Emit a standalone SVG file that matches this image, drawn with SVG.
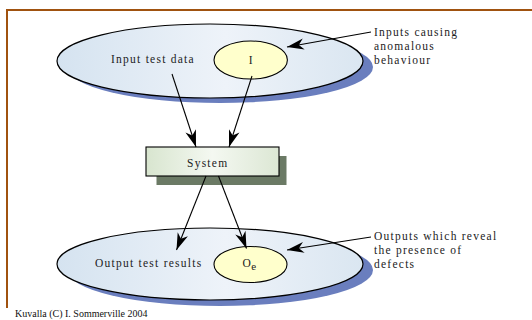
<svg xmlns="http://www.w3.org/2000/svg" width="532" height="320" viewBox="0 0 532 320">
<defs>
<linearGradient id="setFill" x1="0" y1="0" x2="1" y2="0">
<stop offset="0" stop-color="#D5E3F0"/>
<stop offset="0.55" stop-color="#EEF3F9"/>
<stop offset="1" stop-color="#DAE6F1"/>
</linearGradient>
<linearGradient id="boxFill" x1="0" y1="0" x2="1" y2="0">
<stop offset="0" stop-color="#D8E5CF"/>
<stop offset="0.5" stop-color="#F4F8F1"/>
<stop offset="1" stop-color="#DCE7D4"/>
</linearGradient>
<marker id="arr" markerUnits="userSpaceOnUse" viewBox="-18 -7 19 14" refX="0" refY="0" markerWidth="19" markerHeight="14" orient="auto">
<path d="M0,0 L-17,-5.5 L-12,0 L-17,5.5 Z" fill="#000"/>
</marker>
</defs>
<style>
.lbl{font-family:"Liberation Serif","Times New Roman",serif;font-size:11.5px;letter-spacing:1.25px;fill:#222}
.foot{font-family:"Liberation Serif","Times New Roman",serif;font-size:10px;fill:#111}
.set{fill:url(#setFill);stroke:#000;stroke-width:1.2}
.shadow{fill:#6A7EBE}
.sub{fill:#FFFFCC;stroke:#000;stroke-width:1.1}
.conn{stroke:#000;stroke-width:1.1;fill:none;marker-end:url(#arr)}
</style>
<path d="M7,308 V10 H532" fill="none" stroke="#A0520F" stroke-width="2"/>
<g id="input-set">
<ellipse class="shadow" cx="220" cy="67" rx="153" ry="36"/>
<ellipse class="set" cx="210" cy="61" rx="153" ry="37"/>
<text class="lbl" x="111" y="63.3">Input test data</text>
</g>
<g id="input-I">
<ellipse class="sub" cx="250.7" cy="60" rx="36.7" ry="19"/>
<text class="lbl" x="251.3" y="63.5" text-anchor="middle">I</text>
</g>
<g id="system">
<rect x="156.5" y="156" width="130" height="29" fill="#6B7A65"/>
<rect x="146" y="147" width="133" height="29" fill="url(#boxFill)" stroke="#000" stroke-width="1.1"/>
<text class="lbl" x="187" y="166.5">System</text>
</g>
<g id="output-set">
<ellipse class="shadow" cx="220" cy="270" rx="153" ry="36"/>
<ellipse class="set" cx="210" cy="264" rx="153" ry="36"/>
<text class="lbl" x="95" y="267">Output test results</text>
</g>
<g id="output-Oe">
<ellipse class="sub" cx="250.5" cy="264.5" rx="36.5" ry="18"/>
<text class="lbl" x="242.5" y="266.5" style="letter-spacing:0.5px">O<tspan dy="3" font-size="11">e</tspan></text>
</g>
<g id="note-inputs">
<text class="lbl" x="374" y="35.5">Inputs causing</text>
<text class="lbl" x="374" y="49.5">anomalous</text>
<text class="lbl" x="374" y="63.5">behaviour</text>
</g>
<g id="note-outputs">
<text class="lbl" x="374" y="240">Outputs which reveal</text>
<text class="lbl" x="374" y="254">the presence of</text>
<text class="lbl" x="374" y="268">defects</text>
</g>
<g id="connectors">
<line class="conn" x1="371" y1="32" x2="287" y2="47"/>
<line class="conn" x1="172" y1="74" x2="196" y2="147"/>
<line class="conn" x1="252" y1="76" x2="229" y2="147"/>
<line class="conn" x1="206" y1="176" x2="176.5" y2="250"/>
<line class="conn" x1="218.5" y1="176" x2="246.5" y2="248.5"/>
<line class="conn" x1="371" y1="237" x2="287" y2="250"/>
</g>
<text class="foot" x="15" y="317">Kuvalla (C) I. Sommerville 2004</text>
</svg>
